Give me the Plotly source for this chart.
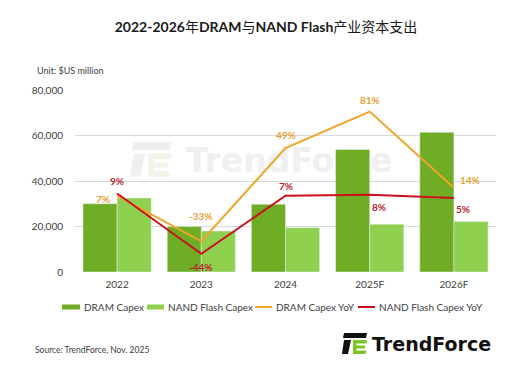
import plotly.graph_objects as go

# ---------------- data ----------------
years = ["2022", "2023", "2024", "2025F", "2026F"]
dram_capex = [30000, 20000, 29800, 53800, 61400]
nand_capex = [32500, 18000, 19500, 21000, 22200]
dram_yoy = [0.07, -0.33, 0.49, 0.81, 0.14]
nand_yoy = [0.09, -0.44, 0.07, 0.08, 0.05]
y_tick_vals = [0, 20000, 40000, 60000, 80000]
y_tick_text = ["0", "20,000", "40,000", "60,000", "80,000"]
series_names = ["DRAM Capex", "NAND Flash Capex", "DRAM Capex YoY", "NAND Flash Capex YoY"]

# label offsets (pixels) for the YoY value labels
dram_lbl_shift = [(-14, -3), (0, 25), (0, 13), (0, 12), (16, 8)]
nand_lbl_shift = [(0, 13), (0, -13), (0, 10), (9, -12), (9, -11)]

# ---------------- layout helpers ----------------
# the page body has an 8px margin, so the figure starts at screen (8, 8)
OFF = 8
W, H = 512 - OFF, 367 - OFF
L, R, T, B = 75 - OFF, 16, 90 - OFF, 95
PW, PH = W - L - R, H - T - B


def px(x):  # screen x -> paper
    return (x - OFF - L) / PW


def py(y):  # screen y -> paper
    return (H - B - (y - OFF)) / PH


FONT = "Lato, 'Noto Sans CJK SC', sans-serif"
LOGO_FONT = "'DejaVu Sans', sans-serif"
DRAM_C = "#6EAD24"
NAND_C = "#8FD04F"
ORANGE = "#F0A429"
RED = "#CC1020"
ORANGE_TXT = "#E5A032"
RED_TXT = "#B8242C"

fig = go.Figure()
fig.add_trace(go.Bar(x=years, y=dram_capex, name=series_names[0], marker_color=DRAM_C))
fig.add_trace(go.Bar(x=years, y=nand_capex, name=series_names[1], marker_color=NAND_C))
fig.add_trace(go.Scatter(x=years, y=dram_yoy, name=series_names[2], yaxis="y2",
                         mode="lines", line=dict(color=ORANGE, width=2)))
fig.add_trace(go.Scatter(x=years, y=nand_yoy, name=series_names[3], yaxis="y2",
                         mode="lines", line=dict(color=RED, width=2)))

shapes = []
annotations = []

# category index i is used as the x of each label (years look numeric)
for i, (v, (dx, dy)) in enumerate(zip(dram_yoy, dram_lbl_shift)):
    annotations.append(dict(text=f"<b>{v:.0%}</b>", x=i, y=v, xref="x", yref="y2",
                            xshift=dx, yshift=dy, showarrow=False,
                            font=dict(size=10, color=ORANGE_TXT, family=FONT)))
for i, (v, (dx, dy)) in enumerate(zip(nand_yoy, nand_lbl_shift)):
    annotations.append(dict(text=f"<b>{v:.0%}</b>", x=i, y=v, xref="x", yref="y2",
                            xshift=dx, yshift=dy, showarrow=False,
                            font=dict(size=10, color=RED_TXT, family=FONT)))


def poly(pts, x0, y0, s, color, layer):
    path = ""
    for i, (a, b) in enumerate(pts):
        path += ("M" if i == 0 else "L") + f"{px(x0 + a * s):.5f},{py(y0 + b * s):.5f}"
    path += "Z"
    shapes.append(dict(type="path", path=path, xref="paper", yref="paper",
                       fillcolor=color, line=dict(width=0), layer=layer))


def icon(x0, y0, s, dark, green, layer):
    poly([(1, 0), (24, 0), (23, 5), (0, 5)], x0, y0, s, dark, layer)
    poly([(1, 7), (8, 7), (5, 21), (-1, 21)], x0, y0, s, dark, layer)
    poly([(10, 7), (24, 7), (23.5, 10.5), (10, 10.5)], x0, y0, s, green, layer)
    poly([(10, 7), (13.5, 7), (13.5, 21), (10, 21)], x0, y0, s, green, layer)
    poly([(10, 12.5), (22, 12.5), (22, 15.5), (10, 15.5)], x0, y0, s, green, layer)
    poly([(10, 17.5), (23, 17.5), (22.5, 21), (10, 21)], x0, y0, s, green, layer)


# watermark (behind the data)
icon(132, 142, 1.65, "#EFEFEF", "#F0F5E8", "below")
shapes.append(dict(type="rect", xref="paper", yref="paper",
                   x0=px(179), x1=px(399), y0=py(172), y1=py(144),
                   line=dict(width=0), fillcolor="rgba(0,0,0,0)", layer="below",
                   label=dict(text="<b>TrendForce</b>", textposition="middle center",
                              font=dict(size=33, color="#F0F0F0", family=LOGO_FONT))))

# bottom-right logo
icon(343, 333, 1.0, "#111111", "#7CC52A", "above")
annotations.append(dict(text="<b>TrendForce</b>", xref="paper", yref="paper",
                        x=px(370), y=py(344), xanchor="left", yanchor="middle",
                        showarrow=False, font=dict(size=19, color="#111111", family=LOGO_FONT)))

annotations.append(dict(text="Unit: $US million", xref="paper", yref="paper",
                        x=px(35), y=py(71), xanchor="left", yanchor="middle",
                        showarrow=False, font=dict(size=9, color="#404040", family=FONT)))
annotations.append(dict(text="Source: TrendForce, Nov. 2025", xref="paper", yref="paper",
                        x=px(33), y=py(350), xanchor="left", yanchor="middle",
                        showarrow=False, font=dict(size=8.5, color="#404040", family=FONT)))

# custom one-row legend
LEG_Y = 307
leg_items = [
    (series_names[0], "bar", DRAM_C, 62, 80),
    (series_names[1], "bar", NAND_C, 147, 164),
    (series_names[2], "line", ORANGE, 255, 272),
    (series_names[3], "line", RED, 358, 375),
]
for name, kind, col, xa, xb in leg_items:
    if kind == "bar":
        shapes.append(dict(type="rect", xref="paper", yref="paper",
                           x0=px(xa), x1=px(xb), y0=py(LEG_Y + 2.5), y1=py(LEG_Y - 2.5),
                           fillcolor=col, line=dict(width=0)))
    else:
        shapes.append(dict(type="line", xref="paper", yref="paper",
                           x0=px(xa), x1=px(xb), y0=py(LEG_Y), y1=py(LEG_Y),
                           line=dict(color=col, width=2)))
    annotations.append(dict(text=name, xref="paper", yref="paper",
                            x=px(xb + 1.5), y=py(LEG_Y), xanchor="left", yanchor="middle",
                            showarrow=False, font=dict(size=10, color="#404040", family=FONT)))

fig.update_layout(
    width=W, height=H,
    margin=dict(l=L, r=R, t=T, b=B, autoexpand=False),
    paper_bgcolor="white", plot_bgcolor="white",
    font=dict(family=FONT, color="#404040"),
    showlegend=False,
    title=dict(text="<b>2022-2026</b>年<b>DRAM</b>与<b>NAND Flash</b>产业资本支出",
               x=(266 - OFF) / W, xanchor="center", xref="container",
               y=1 - (27 - OFF) / H, yanchor="middle", yref="container",
               font=dict(size=14, color="#1A1A1A", family=FONT)),
    barmode="group", bargap=0.19, bargroupgap=0,
    xaxis=dict(type="category", range=[-0.5, len(years) - 0.5],
               showgrid=False, showline=False, ticks="", zeroline=False,
               ticklabelstandoff=5,
               tickfont=dict(size=10, color="#404040")),
    yaxis=dict(range=[0, 80000], tickvals=y_tick_vals, ticktext=y_tick_text,
               showgrid=True, gridcolor="#D9D9D9", gridwidth=1, zeroline=False,
               showline=False, ticks="", ticklabelstandoff=11,
               tickfont=dict(size=10, color="#404040")),
    yaxis2=dict(range=[-0.6, 1.0], overlaying="y", side="right", visible=False,
                showgrid=False, zeroline=False),
    shapes=shapes, annotations=annotations,
)

fig.write_html("out.html")
